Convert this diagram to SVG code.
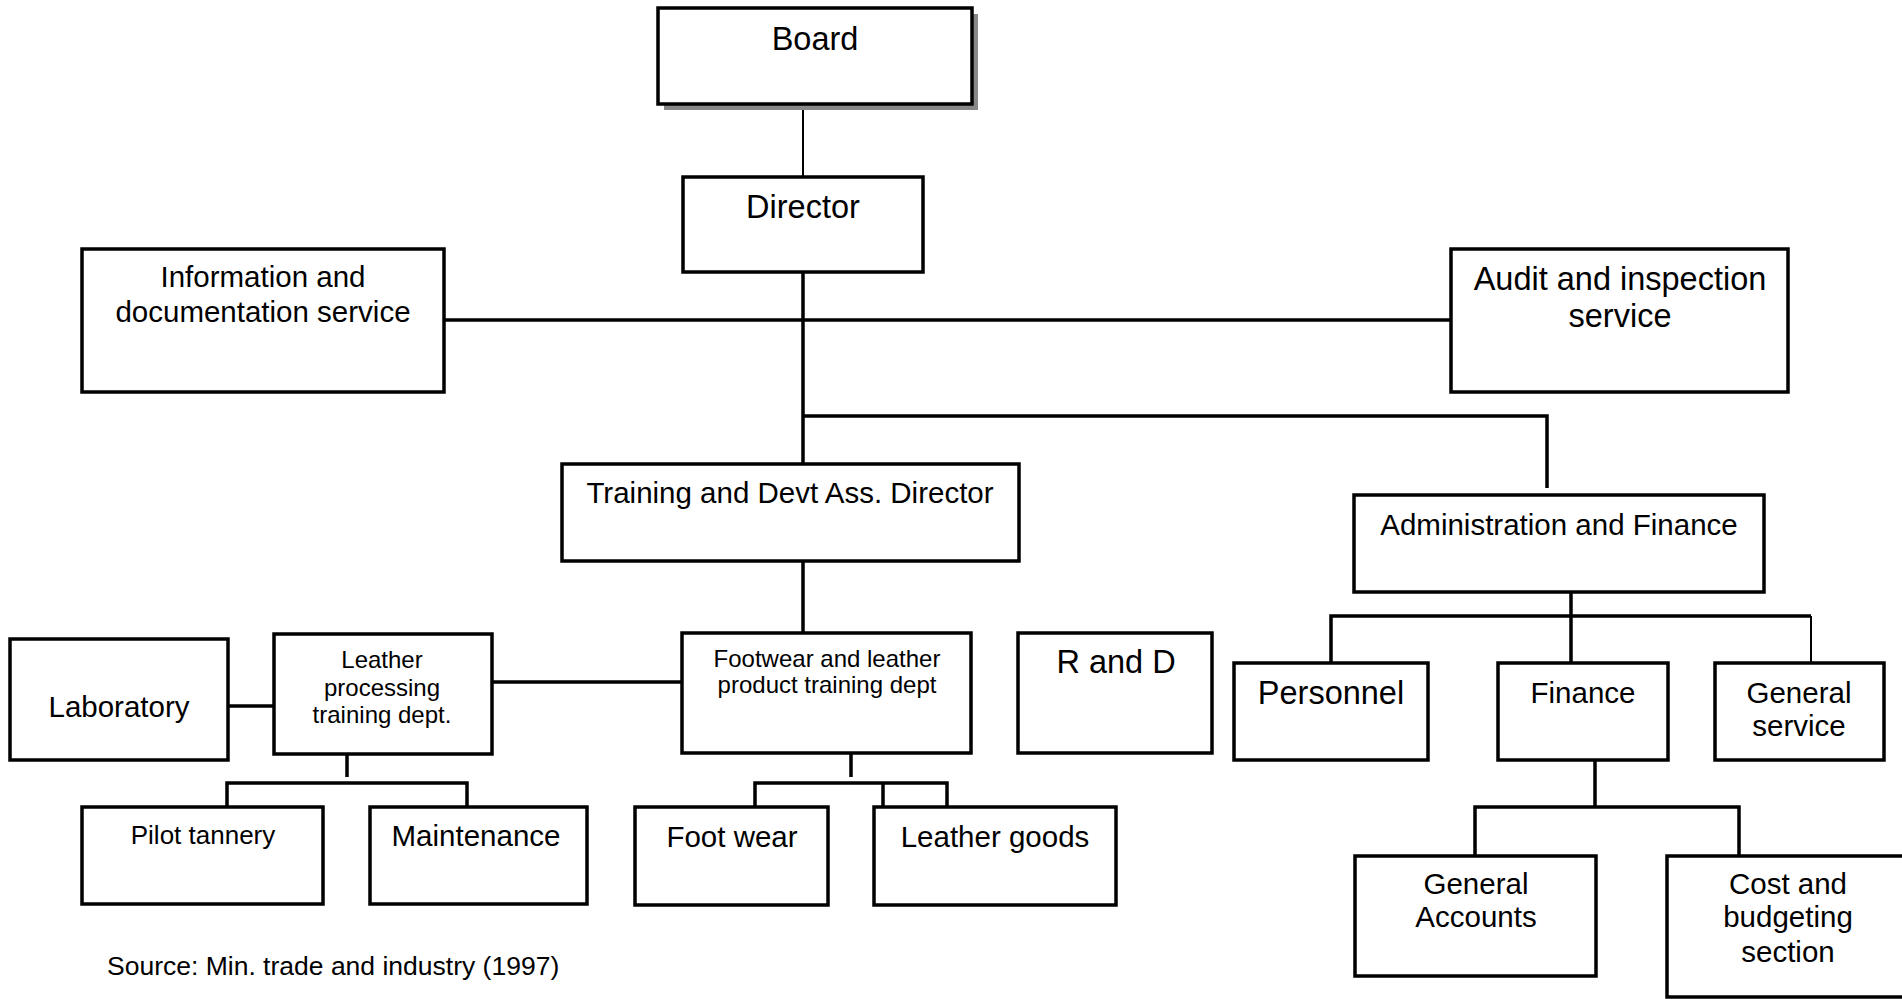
<svg xmlns="http://www.w3.org/2000/svg" width="1902" height="999" viewBox="0 0 1902 999">
<style>
.box{fill:#fff;stroke:#000;stroke-width:3.5}
.ln{fill:none;stroke:#000;stroke-width:3.5}
.thin{fill:none;stroke:#000;stroke-width:2}
text{font-family:"Liberation Sans",Arial,sans-serif;fill:#000;text-anchor:middle}
.l{font-size:29.5px}
.xl{font-size:32.5px}
.m{font-size:26.5px}
.s{font-size:24px}
</style>
<rect width="1902" height="999" fill="#fff"/>
<g id="connectors">
<line class="thin" x1="803" y1="104" x2="803" y2="177"/>
<line class="ln" x1="803" y1="272" x2="803" y2="464"/>
<line class="ln" x1="444" y1="320" x2="1451" y2="320"/>
<polyline class="ln" points="803,416 1547,416 1547,488"/>
<line class="ln" x1="803" y1="561" x2="803" y2="633"/>
<line class="ln" x1="228" y1="706" x2="274" y2="706"/>
<line class="ln" x1="492" y1="682" x2="682" y2="682"/>
<line class="ln" x1="347" y1="754" x2="347" y2="777"/>
<polyline class="ln" points="227,807 227,783 467,783 467,807"/>
<line class="ln" x1="851" y1="753" x2="851" y2="777"/>
<polyline class="ln" points="755,807 755,783 947,783 947,807"/>
<line class="ln" x1="883" y1="783" x2="883" y2="810"/>
<line class="ln" x1="1571" y1="592" x2="1571" y2="663"/>
<polyline class="ln" points="1331,663 1331,616 1811,616"/>
<line class="thin" x1="1811" y1="616" x2="1811" y2="663"/>
<line class="ln" x1="1595" y1="760" x2="1595" y2="807"/>
<polyline class="ln" points="1475,856 1475,807 1739,807 1739,856"/>
</g>
<g id="board">
<rect x="664" y="14" width="314" height="96" fill="#888"/>
<rect class="box" x="658" y="8" width="314" height="96"/>
<text class="xl" x="815" y="50">Board</text>
</g>
<g id="director">
<rect class="box" x="683" y="177" width="240" height="95"/>
<text class="xl" x="803" y="218">Director</text>
</g>
<g id="info">
<rect class="box" x="82" y="249" width="362" height="143"/>
<text class="l" x="263" y="287">Information and</text>
<text class="l" x="263" y="322">documentation service</text>
</g>
<g id="audit">
<rect class="box" x="1451" y="249" width="337" height="143"/>
<text class="xl" x="1620" y="290">Audit and inspection</text>
<text class="xl" x="1620" y="327">service</text>
</g>
<g id="training">
<rect class="box" x="562" y="464" width="457" height="97"/>
<text class="l" x="790" y="503">Training and Devt Ass. Director</text>
</g>
<g id="admin">
<rect class="box" x="1354" y="495" width="410" height="97"/>
<text class="l" x="1559" y="535">Administration and Finance</text>
</g>
<g id="laboratory">
<rect class="box" x="10" y="639" width="218" height="121"/>
<text class="l" x="119" y="717">Laboratory</text>
</g>
<g id="leather">
<rect class="box" x="274" y="634" width="218" height="120"/>
<text class="s" x="382" y="668">Leather</text>
<text class="s" x="382" y="696">processing</text>
<text class="s" x="382" y="723">training dept.</text>
</g>
<g id="footwear">
<rect class="box" x="682" y="633" width="289" height="120"/>
<text class="s" x="827" y="667">Footwear and leather</text>
<text class="s" x="827" y="693">product training dept</text>
</g>
<g id="rand">
<rect class="box" x="1018" y="633" width="194" height="120"/>
<text class="xl" x="1116" y="673">R and D</text>
</g>
<g id="personnel">
<rect class="box" x="1234" y="663" width="194" height="97"/>
<text class="xl" x="1331" y="704">Personnel</text>
</g>
<g id="finance">
<rect class="box" x="1498" y="663" width="170" height="97"/>
<text class="l" x="1583" y="703">Finance</text>
</g>
<g id="general-service">
<rect class="box" x="1715" y="663" width="169" height="97"/>
<text class="l" x="1799" y="703">General</text>
<text class="l" x="1799" y="736">service</text>
</g>
<g id="pilot">
<rect class="box" x="82" y="807" width="241" height="97"/>
<text class="s" x="203" y="844" style="font-size:26px">Pilot tannery</text>
</g>
<g id="maintenance">
<rect class="box" x="370" y="807" width="217" height="97"/>
<text class="l" x="476" y="846">Maintenance</text>
</g>
<g id="footwear-unit">
<rect class="box" x="635" y="807" width="193" height="98"/>
<text class="l" x="732" y="847">Foot wear</text>
</g>
<g id="leather-goods">
<rect class="box" x="874" y="807" width="242" height="98"/>
<text class="l" x="995" y="847">Leather goods</text>
</g>
<g id="general-accounts">
<rect class="box" x="1355" y="856" width="241" height="120"/>
<text class="l" x="1476" y="894">General</text>
<text class="l" x="1476" y="927">Accounts</text>
</g>
<g id="cost">
<rect class="box" x="1667" y="856" width="250" height="141"/>
<text class="l" x="1788" y="894">Cost and</text>
<text class="l" x="1788" y="927">budgeting</text>
<text class="l" x="1788" y="962">section</text>
</g>
<g id="source">
<text class="m" x="107" y="975" style="text-anchor:start">Source: Min. trade and industry (1997)</text>
</g>
</svg>
